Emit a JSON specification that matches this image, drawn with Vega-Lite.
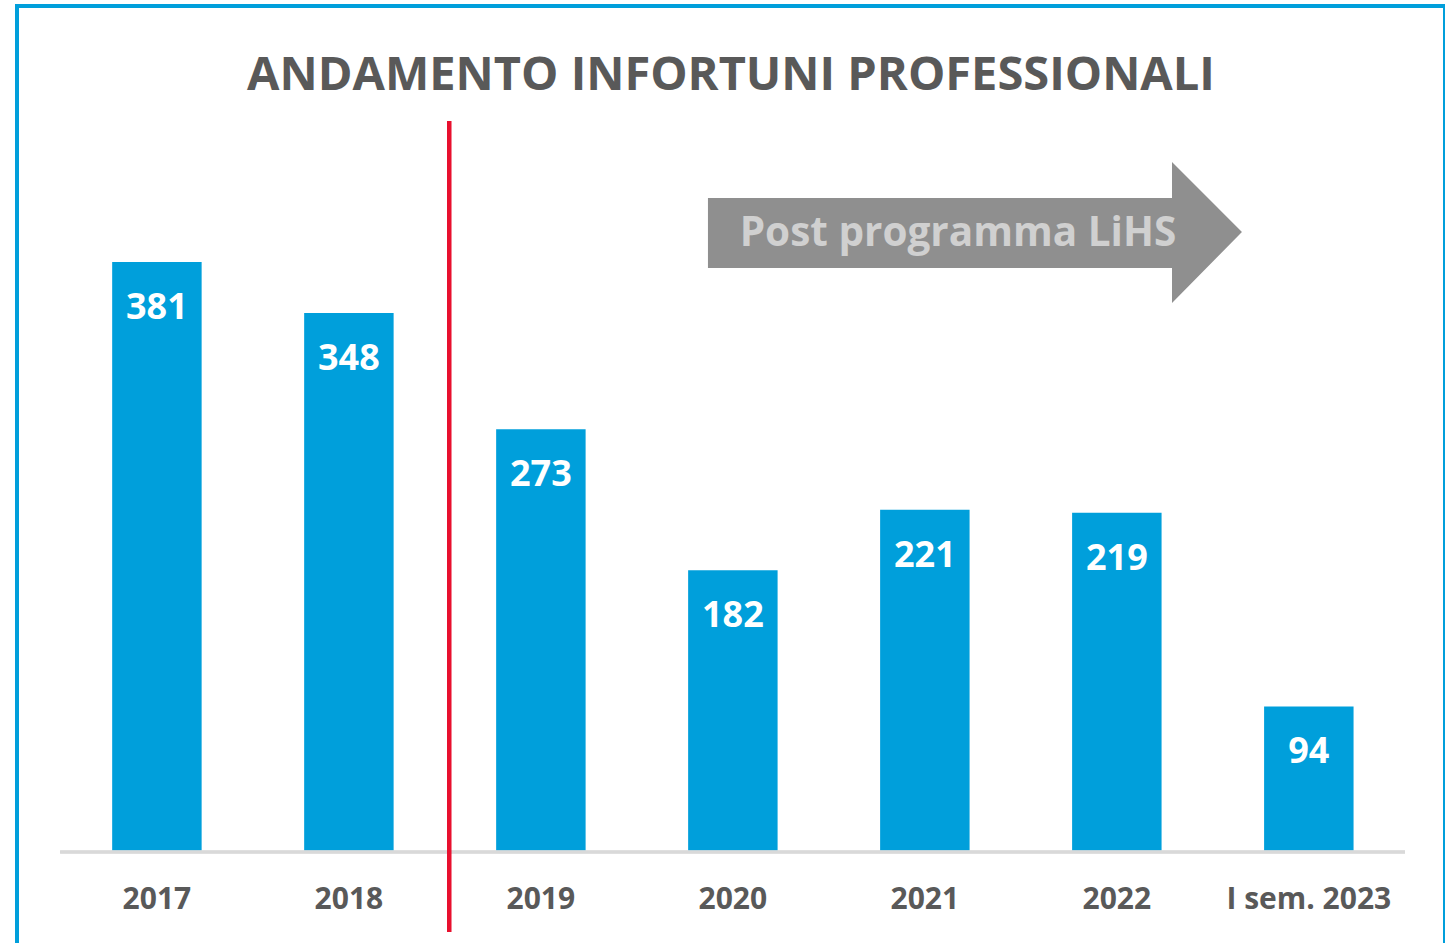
{
  "$schema": "https://vega.github.io/schema/vega-lite/v6.json",
  "autosize": {"type": "none"},
  "width": 1428,
  "height": 950,
  "padding": {"left": 17, "top": 6, "right": 0, "bottom": 0},
  "background": "white",
  "title": {
    "text": "ANDAMENTO INFORTUNI PROFESSIONALI",
    "orient": "top",
    "anchor": "middle",
    "frame": "group",
    "offset": -94,
    "font": "Open Sans",
    "fontSize": 47,
    "fontWeight": "bold",
    "color": "#595959"
  },
  "datasets": {
    "serie": [
      {"periodo": "2017", "infortuni": 381},
      {"periodo": "2018", "infortuni": 348},
      {"periodo": "2019", "infortuni": 273},
      {"periodo": "2020", "infortuni": 182},
      {"periodo": "2021", "infortuni": 221},
      {"periodo": "2022", "infortuni": 219},
      {"periodo": "I sem. 2023", "infortuni": 94}
    ],
    "nota": [
      {"periodo": "2021", "testo": "Post programma LiHS"}
    ]
  },
  "layer": [
    {
      "data": {"name": "serie"},
      "mark": {"type": "bar", "color": "#009fdb"},
      "encoding": {
        "x": {
          "field": "periodo",
          "type": "nominal",
          "sort": null,
          "scale": {
            "type": "band",
            "domain": ["2017", "2018", "2019", "2020", "2021", "2022", "I sem. 2023"],
            "paddingInner": 0.534,
            "paddingOuter": 0.486,
            "align": 0.51
          },
          "axis": {
            "title": null,
            "domain": false,
            "ticks": false,
            "tickSize": 0,
            "labelAngle": 0,
            "labelPadding": 47,
            "labelBaseline": "middle",
            "labelFont": "Open Sans",
            "labelFontSize": 30,
            "labelFontWeight": "bold",
            "labelColor": "#595959",
            "offset": -104,
            "grid": false
          }
        },
        "y": {
          "field": "infortuni",
          "type": "quantitative",
          "scale": {"domain": [-67.1, 546.2], "nice": false, "zero": false},
          "axis": null
        },
        "y2": {"datum": 0}
      }
    },
    {
      "data": {"name": "serie"},
      "mark": {"type": "rule", "color": "#d9d9d9", "strokeWidth": 2.5},
      "encoding": {
        "x": {"datum": "2017", "bandPosition": -0.58},
        "x2": {"datum": "I sem. 2023", "bandPosition": 1.575},
        "y": {"datum": 0}
      }
    },
    {
      "data": {"name": "serie"},
      "mark": {
        "type": "text",
        "color": "white",
        "font": "Open Sans",
        "fontSize": 36,
        "fontWeight": "bold",
        "baseline": "middle",
        "dy": 46
      },
      "encoding": {
        "x": {"field": "periodo", "type": "nominal"},
        "y": {"field": "infortuni", "type": "quantitative"},
        "text": {"field": "infortuni", "type": "quantitative"}
      }
    },
    {
      "data": {"name": "serie"},
      "mark": {"type": "rule", "color": "#e8102e", "strokeWidth": 4},
      "encoding": {
        "x": {"datum": "2018", "bandPosition": 1.62},
        "y": {"datum": 471.9},
        "y2": {"datum": -51.6}
      }
    },
    {
      "data": {"name": "nota"},
      "mark": {
        "type": "point",
        "filled": true,
        "color": "#8f8f8f",
        "opacity": 1,
        "strokeWidth": 0,
        "size": 285156,
        "shape": "M-1,-0.127L0.738,-0.127L0.738,-0.262L1,0L0.738,0.266L0.738,0.135L-1,0.135Z"
      },
      "encoding": {
        "x": {"field": "periodo", "type": "nominal", "bandPosition": 1.06},
        "y": {"datum": 400.3}
      }
    },
    {
      "data": {"name": "nota"},
      "mark": {
        "type": "text",
        "color": "#d0d0d0",
        "font": "Open Sans",
        "fontSize": 40.5,
        "fontWeight": "bold",
        "baseline": "middle",
        "align": "center"
      },
      "encoding": {
        "x": {"field": "periodo", "type": "nominal", "bandPosition": 0.87},
        "y": {"datum": 399},
        "text": {"field": "testo", "type": "nominal"}
      }
    }
  ],
  "config": {
    "view": {"stroke": "#009fdb", "strokeWidth": 4}
  }
}
